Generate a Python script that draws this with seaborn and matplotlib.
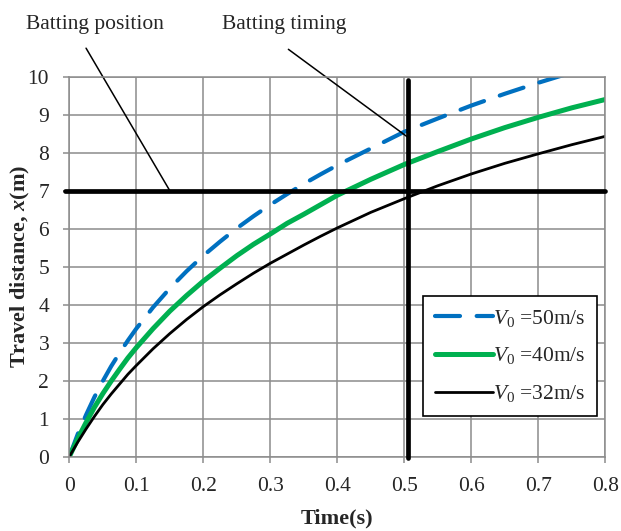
import seaborn as sns
import numpy as np
import matplotlib.pyplot as plt

# time (s)
t = [0, 0.0125, 0.025, 0.0375, 0.05, 0.0625, 0.075, 0.0875, 0.1, 0.125,
     0.15, 0.175, 0.2, 0.225, 0.25, 0.275, 0.3, 0.325, 0.35, 0.375, 0.4,
     0.45, 0.5, 0.55, 0.6, 0.65, 0.7, 0.75, 0.8]
# travel distance (m)
x_v50 = [0, 0.59, 1.10, 1.57, 1.99, 2.38, 2.73, 3.06, 3.37, 3.93,
         4.43, 4.88, 5.29, 5.66, 6.01, 6.33, 6.63, 6.91, 7.18, 7.43, 7.67,
         8.11, 8.55, 8.90, 9.24, 9.55, 9.84, 10.11, 10.37]
x_v40 = [0, 0.47, 0.90, 1.30, 1.66, 1.99, 2.30, 2.60, 2.87, 3.37,
         3.83, 4.24, 4.62, 4.96, 5.29, 5.59, 5.86, 6.14, 6.38, 6.63, 6.88,
         7.30, 7.69, 8.03, 8.36, 8.66, 8.93, 9.18, 9.40]
x_v32 = [0, 0.38, 0.73, 1.06, 1.37, 1.65, 1.91, 2.17, 2.40, 2.84,
         3.24, 3.61, 3.95, 4.26, 4.55, 4.83, 5.09, 5.33, 5.57, 5.80, 6.02,
         6.43, 6.79, 7.13, 7.44, 7.72, 7.97, 8.21, 8.43]

labels = ['$V_0$ =50m/s', '$V_0$ =40m/s', '$V_0$ =32m/s']
batting_position = 7.0
batting_timing = 0.505

sns.set_theme(style='white')
plt.rcParams['font.family'] = ['Liberation Serif', 'DejaVu Serif']
plt.rcParams['mathtext.fontset'] = 'custom'
plt.rcParams['mathtext.rm'] = 'Liberation Serif'
plt.rcParams['mathtext.it'] = 'Liberation Serif:italic'
plt.rcParams['mathtext.bf'] = 'Liberation Serif:bold'
plt.rcParams['mathtext.bfit'] = 'Liberation Serif:italic:bold'

grid_col = '#8c8c8c'
fig = plt.figure(figsize=(6.21, 5.31), dpi=100)
ax = fig.add_axes([0.1116, 0.1399, 0.8631, 0.7157])

sns.lineplot(x=t, y=x_v50, ax=ax, color='#0070C0', lw=3.0, label=labels[0],
             linestyle=(0, (6, 4)), dash_capstyle='round')
sns.lineplot(x=t, y=x_v40, ax=ax, color='#00B050', lw=3.6, label=labels[1])
sns.lineplot(x=t, y=x_v32, ax=ax, color='black', lw=2.0, label=labels[2])

# batting position / timing lines
ax.plot([-0.007, 0.8], [batting_position, batting_position], color='black',
        lw=3.4, clip_on=False, zorder=4)
ax.plot([batting_timing, batting_timing], [-0.04, 9.9], color='black',
        lw=3.4, clip_on=False, zorder=4)

# annotations
ax.plot([0.025, 0.15], [10.75, batting_position], color='black', lw=1.1,
        clip_on=False)
ax.plot([0.327, batting_timing], [10.72, 8.41], color='black', lw=1.1,
        clip_on=False)
ax.text(0.039, 11.36, 'Batting position', ha='center', va='center', fontsize=15.5)
ax.text(0.321, 11.36, 'Batting timing', ha='center', va='center', fontsize=15.5)

ax.set_xlim(0, 0.8)
ax.set_ylim(0, 10)
ax.set_xticks(np.arange(0, 0.81, 0.1))
ax.set_xticklabels(['0'] + ['%.1f' % v for v in np.arange(0.1, 0.81, 0.1)])
ax.set_yticks(range(0, 11))
ax.grid(True, color=grid_col, lw=1.1)
for s in ax.spines.values():
    s.set_color(grid_col)
    s.set_linewidth(1.1)
ax.tick_params(direction='out', length=4.5, width=1.1, color=grid_col,
               labelsize=15.5, pad=10, left=True, bottom=True)

ax.set_xlabel('Time(s)', fontsize=16, fontweight='bold', labelpad=9)
ax.set_ylabel(r'Travel distance, $\mathbfit{x}$(m)', fontsize=16,
              fontweight='bold', labelpad=-3)

leg = ax.legend(loc='lower right', bbox_to_anchor=(0.9845, 0.107),
                borderaxespad=0, fontsize=15.5, frameon=True, fancybox=False,
                handlelength=2.7, handletextpad=0.0, labelspacing=0.78,
                borderpad=0.55)
leg.get_frame().set_edgecolor('black')
leg.get_frame().set_linewidth(1.2)
leg.get_frame().set_alpha(1)

fig.savefig('out.png', dpi=100)
